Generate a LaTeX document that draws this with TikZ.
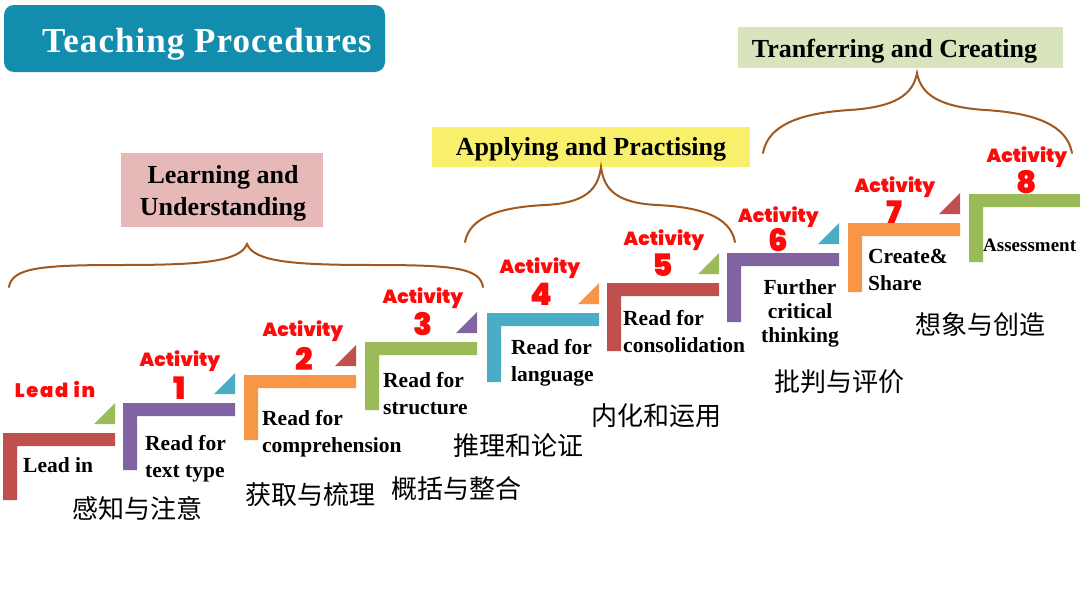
\documentclass[tikz,border=0pt]{standalone}
\usepackage{fontspec}
\setmainfont{Liberation Serif}
\newfontfamily\actfont{Poppins Black}
\newfontfamily\cjk{Noto Sans CJK SC}
\newcommand{\mylines}[2]{\begin{tabular}[t]{@{}#1@{}}#2\end{tabular}}
\definecolor{stRed}{HTML}{C0504D}
\definecolor{stPurple}{HTML}{8064A2}
\definecolor{stOrange}{HTML}{F79646}
\definecolor{stGreen}{HTML}{9BBB59}
\definecolor{stBlue}{HTML}{4BACC6}
\definecolor{actred}{HTML}{FF0A0A}
\definecolor{titlebg}{HTML}{138DAD}
\definecolor{pinkbg}{HTML}{E6B8B7}
\definecolor{yellowbg}{HTML}{F8F06A}
\definecolor{greenbg}{HTML}{D8E4BC}
\definecolor{bracebrown}{HTML}{A0581E}
\begin{document}
\begin{tikzpicture}[x=1pt,y=-1pt,
  steptext/.style={anchor=base west, inner sep=0pt, font=\fontsize{21.5}{27}\selectfont\bfseries},
  acttext/.style={anchor=base, inner sep=0pt, text=actred, font=\fontsize{19}{19}\selectfont\actfont},
  actnum/.style={inner sep=0pt, text=actred, font=\fontsize{31}{31}\selectfont\actfont},
  cntext/.style={inner sep=0pt, font=\fontsize{26}{26}\selectfont\cjk},
  stagetext/.style={anchor=base, inner sep=0pt, font=\fontsize{26}{32}\selectfont\bfseries},
  bracestyle/.style={draw=bracebrown, line width=2pt, line cap=round}]
\useasboundingbox[fill=white] (0,0) rectangle (1080,608);

% title
\fill[titlebg, rounded corners=10pt] (4,5) rectangle (385,72);
\node[anchor=base west, inner sep=0pt, text=white, font=\fontsize{35}{35}\selectfont\bfseries\addfontfeature{LetterSpace=3}] (title) at (42,52) {Teaching Procedures};

% stage boxes
\fill[pinkbg] (121,153) rectangle (323,227);
\node[stagetext] (learn) at (223,183) {\mylines{c}{Learning and\\Understanding}};
\fill[yellowbg] (432,127) rectangle (750,167);
\node[stagetext] (apply) at (591,155) {Applying and Practising};
\fill[greenbg] (738,27) rectangle (1063,68);
\node[stagetext] (transfer) at (894.5,57) {Tranferring and Creating};

% braces
\draw[bracestyle] (9,287) .. controls (12,268) and (40,265) .. (120,265)
  .. controls (200,265) and (240,262) .. (247,244)
  .. controls (254,262) and (294,265) .. (374,265)
  .. controls (454,265) and (480,268) .. (483,287);
\draw[bracestyle] (465,242) .. controls (470,215) and (505,207) .. (545,205)
  .. controls (585,203) and (598,190) .. (601,167)
  .. controls (604,190) and (617,203) .. (657,205)
  .. controls (697,207) and (730,215) .. (735,242);
\draw[bracestyle] (763,153) .. controls (768,125) and (800,113) .. (850,110)
  .. controls (895,107) and (913,95) .. (917,73)
  .. controls (921,95) and (940,107) .. (985,110)
  .. controls (1035,113) and (1067,125) .. (1072,153);

% steps
\foreach \x/\t/\b/\bc in {3/433/500/stRed, 123/403/470/stPurple, 244/375/440/stOrange,
  365/342/410/stGreen, 487/313/382/stBlue, 607/283/351/stRed, 727/253/322/stPurple,
  848/223/292/stOrange, 969/194/262/stGreen}{
  \fill[\bc] (\x,\t) -- ++(112,0) -- ++(0,13) -- (\x+14,\t+13) -- (\x+14,\b) -- (\x,\b) -- cycle;
}
\foreach \x/\t/\c in {3/433/stGreen, 123/403/stBlue, 244/375/stRed, 365/342/stPurple,
  487/313/stOrange, 607/283/stGreen, 727/253/stBlue, 848/223/stRed}{
  \fill[\c] (\x+91,\t-9) -- (\x+112,\t-9) -- (\x+112,\t-30) -- cycle;
}

% step texts
\node[steptext] (s0) at (23,472) {Lead in};
\node[steptext] (s1) at (145,450) {\mylines{l}{Read for\\text type}};
\node[steptext] (s2) at (262,425) {\mylines{l}{Read for\\comprehension}};
\node[steptext] (s3) at (383,387) {\mylines{l}{Read for\\structure}};
\node[steptext] (s4) at (511,354) {\mylines{l}{Read for\\language}};
\node[steptext] (s5) at (623,325) {\mylines{l}{Read for\\consolidation}};
\node[steptext, anchor=base, font=\fontsize{21.5}{24}\selectfont\bfseries] (s6) at (800,294) {\mylines{c}{Further\\critical\\thinking}};
\node[steptext] (s7) at (868,263) {\mylines{l}{Create\&\\Share}};
\node[steptext, font=\fontsize{19}{19}\selectfont\bfseries] (s8) at (983,251) {Assessment};

% activity labels
\node[acttext, font=\fontsize{19.5}{19.5}\selectfont\actfont\addfontfeature{LetterSpace=9}] (a0) at (55,397) {Lead in};
\node[acttext] (a1) at (180,366) {Activity};
\node[actnum] (n1) at (180,388) {1};
\node[acttext] (a2) at (303,336) {Activity};
\node[actnum] (n2) at (304,359) {2};
\node[acttext] (a3) at (423,303) {Activity};
\node[actnum] (n3) at (423,324) {3};
\node[acttext] (a4) at (540,273) {Activity};
\node[actnum] (n4) at (541,294) {4};
\node[acttext] (a5) at (664,245) {Activity};
\node[actnum] (n5) at (663,265) {5};
\node[acttext] (a6) at (778.5,222) {Activity};
\node[actnum] (n6) at (778,240.5) {6};
\node[acttext] (a7) at (895,192) {Activity};
\node[actnum] (n7) at (894,212) {7};
\node[acttext] (a8) at (1027,162) {Activity};
\node[actnum] (n8) at (1027,182.5) {8};

% chinese labels
\node[cntext] (c0) at (137.5,508) {感知与注意};
\node[cntext] (c1) at (310,495) {获取与梳理};
\node[cntext] (c2) at (456.5,489) {概括与整合};
\node[cntext] (c3) at (518,446) {推理和论证};
\node[cntext] (c4) at (656.5,416) {内化和运用};
\node[cntext] (c5) at (839.5,382) {批判与评价};
\node[cntext] (c6) at (980,325) {想象与创造};
\end{tikzpicture}
\end{document}
